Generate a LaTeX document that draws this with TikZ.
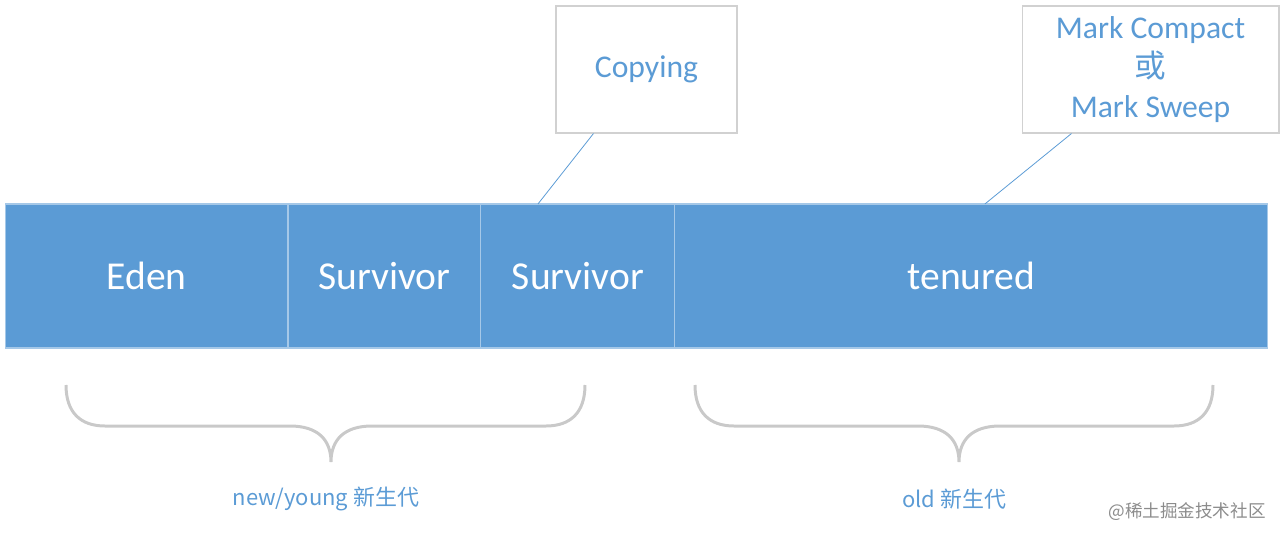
\documentclass[tikz,border=0pt]{standalone}
\usepackage{fontspec}
\setmainfont{Carlito}
\newfontfamily\cjk{Noto Sans CJK SC}
\usetikzlibrary{positioning}
\definecolor{barblue}{HTML}{5B9BD5}
\definecolor{txtblue}{HTML}{5B9BD5}
\definecolor{bracegray}{HTML}{C9C9C9}
\tikzset{
  cell/.style={fill=barblue, draw=barblue!55!white, line width=0.6pt, minimum height=2.88cm, inner sep=0pt, outer sep=0pt, text=white, font=\fontsize{22.5}{27}\selectfont},
  note/.style={draw=black!18, fill=white, line width=0.6pt, minimum height=2.54cm, inner sep=0pt, text=txtblue, align=center, font=\fontsize{18}{22.7}\selectfont},
  callout/.style={txtblue, line width=0.45pt},
  brace/.style={bracegray, line width=1.7pt},
  agelabel/.style={text=txtblue, font=\cjk\fontsize{12.5}{15}\selectfont},
  watermark/.style={text=black!45, font=\cjk\fontsize{10}{12}\selectfont}
}
\begin{document}
\begin{tikzpicture}[x=0.02cm, y=-0.02cm]
\useasboundingbox (0,0) rectangle (1285,538);

% heap bar
\node[cell, minimum width=5.66cm] (eden) at (146.5,276) {Eden};
\node[cell, minimum width=3.86cm, right=0pt of eden] (surv1) {Survivor};
\node[cell, minimum width=3.88cm, right=0pt of surv1] (surv2) {Survivor};
\node[cell, minimum width=11.86cm, right=0pt of surv2] (tenured) {tenured};

% algorithm notes
\node[note, minimum width=3.62cm] (copy) at (646.5,69.5) {Copying};
\node[note, minimum width=5.14cm] (markc) at (1150.5,69.5) {Mark Compact\\{\cjk 或}\\Mark Sweep};

\draw[callout] ([xshift=0.76cm]copy.south west) -- ([xshift=1.14cm]surv2.north west);
\draw[callout] ([xshift=1.0cm]markc.south west) -- ([xshift=6.2cm]tenured.north west);

% braces
\draw[brace] (66,385) .. controls (66,412) and (80,426) .. (105,426) -- (290,426)
  .. controls (318,426) and (331,440) .. (331,462)
  .. controls (331,440) and (344,426) .. (372,426) -- (546,426)
  .. controls (571,426) and (585,412) .. (585,385);
\draw[brace] (695,385) .. controls (695,412) and (709,426) .. (734,426) -- (918,426)
  .. controls (946,426) and (959,440) .. (959,462)
  .. controls (959,440) and (972,426) .. (1000,426) -- (1174,426)
  .. controls (1199,426) and (1213,412) .. (1213,385);

\node[agelabel] (young) at (326,499) {new/young 新生代};
\node[agelabel] (old) at (954,499) {old 新生代};

\node[watermark] (wm) at (1187,512) {@稀土掘金技术社区};
\end{tikzpicture}
\end{document}
